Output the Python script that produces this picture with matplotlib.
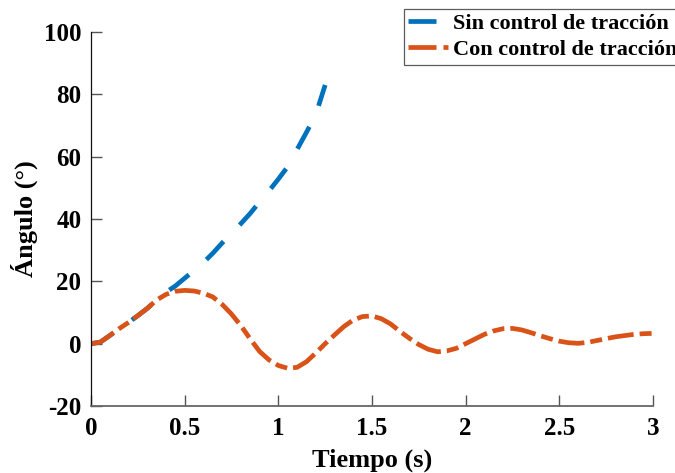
import matplotlib
matplotlib.use("Agg")
import matplotlib.pyplot as plt

plt.rcParams['font.family'] = ['Liberation Serif', 'DejaVu Serif']
plt.rcParams['font.weight'] = 'bold'
plt.rcParams['lines.scale_dashes'] = False
plt.rcParams['axes.unicode_minus'] = False

# Time samples (s)
t_sin = [0.00, 0.05, 0.10, 0.15, 0.20, 0.25, 0.30, 0.35, 0.40, 0.45, 0.50,
         0.55, 0.60, 0.65, 0.70, 0.75, 0.80, 0.85, 0.90, 0.95, 1.00, 1.05,
         1.10, 1.15, 1.20, 1.25]
ang_sin = [0.0, 0.5, 2.6, 4.8, 6.8, 9.0, 11.3, 14.0, 16.5, 18.5, 21.0,
           23.5, 26.0, 29.0, 32.3, 35.5, 38.5, 41.8, 45.5, 49.0, 52.8, 56.8,
           62.3, 67.8, 73.5, 83.0]

t_con = [0.00, 0.05, 0.10, 0.15, 0.20, 0.25, 0.30, 0.35, 0.40, 0.45, 0.50,
         0.55, 0.60, 0.65, 0.70, 0.75, 0.80, 0.85, 0.90, 0.95, 1.00, 1.05,
         1.10, 1.15, 1.20, 1.25, 1.30, 1.35, 1.40, 1.45, 1.50, 1.55, 1.60,
         1.65, 1.70, 1.75, 1.80, 1.85, 1.90, 1.95, 2.00, 2.05, 2.10, 2.15,
         2.20, 2.25, 2.30, 2.35, 2.40, 2.45, 2.50, 2.55, 2.60, 2.65, 2.70,
         2.75, 2.80, 2.85, 2.90, 2.95, 3.00]
ang_con = [0.0, 0.5, 2.6, 4.8, 6.8, 9.0, 11.3, 14.0, 15.8, 16.8, 17.1,
           16.9, 16.2, 15.0, 12.6, 9.5, 5.8, 1.5, -2.5, -5.2, -7.0, -7.9,
           -7.6, -5.8, -3.0, 0.0, 2.8, 5.5, 7.6, 8.7, 8.9, 8.0, 6.3,
           3.9, 1.7, -0.3, -1.8, -2.6, -2.3, -1.5, 0.0, 1.5, 3.0, 4.1,
           4.8, 4.9, 4.4, 3.5, 2.5, 1.6, 0.8, 0.3, 0.1, 0.4, 1.0,
           1.6, 2.2, 2.6, 3.0, 3.2, 3.3]

x_ticks = [0, 0.5, 1, 1.5, 2, 2.5, 3]
x_tick_labels = ['0', '0.5', '1', '1.5', '2', '2.5', '3']
y_ticks = [-20, 0, 20, 40, 60, 80, 100]

labels = ['Sin control de tracción', 'Con control de tracción']
colors = ['#0072BD', '#D95319']

PX = 0.72  # points per pixel at 100 dpi
LW = 3.4

fig = plt.figure(figsize=(6.75, 4.73), dpi=100)
ax = fig.add_axes([91 / 675, 1 - 406 / 473, (653 - 91) / 675, (406 - 32) / 473])

ax.plot(t_sin, ang_sin, color=colors[0], lw=LW,
        linestyle=(0, (25 * PX, 23 * PX)), dash_capstyle='butt',
        label=labels[0])
ax.plot(t_con, ang_con, color=colors[1], lw=LW,
        linestyle=(0, (26 * PX, 6 * PX, 12 * PX, 6 * PX)),
        dash_capstyle='butt', label=labels[1])

ax.set_xlim(0, 3)
ax.set_ylim(-20, 100)
ax.set_xticks(x_ticks)
ax.set_xticklabels(x_tick_labels)
ax.set_yticks(y_ticks)

for s in ('top', 'right'):
    ax.spines[s].set_visible(False)
ax.spines['left'].set_color('#111111')
ax.spines['left'].set_linewidth(0.9)
ax.spines['bottom'].set_color('#666666')
ax.spines['bottom'].set_linewidth(1.3)

ax.tick_params(direction='in', length=8, width=1.0, colors='#555555',
               labelcolor='black', labelsize=18)
ax.tick_params(axis='x', pad=8)
ax.tick_params(axis='y', pad=7)
for lab in ax.get_xticklabels() + ax.get_yticklabels():
    lab.set_fontweight('bold')

ax.set_xlabel('Tiempo (s)', fontsize=19, fontweight='bold', labelpad=6)
ax.set_ylabel('Ángulo (°)', fontsize=19, fontweight='bold', labelpad=4)

leg = fig.legend(loc='upper left', bbox_to_anchor=(404 / 675, 1 - 9 / 473),
                 prop={'weight': 'bold', 'size': 16},
                 frameon=True, fancybox=False, handlelength=1.8,
                 handletextpad=0.2, borderpad=0.2, labelspacing=0.25,
                 borderaxespad=0)
leg.get_frame().set_edgecolor('#333333')
leg.get_frame().set_linewidth(0.9)
hl = leg.get_lines()
hl[0].set_linestyle((0, (28 * PX, 20 * PX)))
hl[1].set_linestyle((0, (28 * PX, 7 * PX, 6 * PX, 7 * PX)))
for h in hl:
    h.set_linewidth(LW)

fig.savefig('out.png', dpi=100)
